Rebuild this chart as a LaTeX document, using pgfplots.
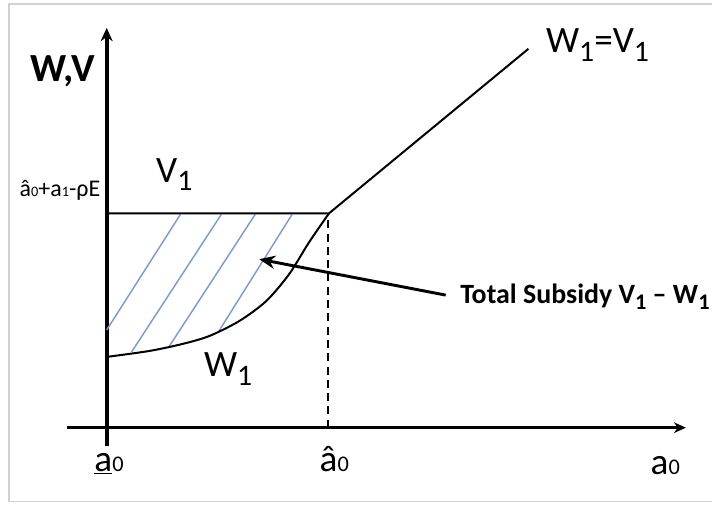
\documentclass[border=0pt]{standalone}
\usepackage{fontspec}
\setmainfont{Carlito}
\usepackage{pgfplots}
\pgfplotsset{compat=1.18}
\usetikzlibrary{arrows.meta}

\definecolor{hatch}{RGB}{125,155,205}
\definecolor{framegray}{RGB}{210,210,210}

% lowered subscript (PowerPoint style) and small baseline digit
\newcommand{\sub}[1]{\raisebox{-0.22em}{\scalebox{0.8}{#1}}}
\newcommand{\low}[1]{\scalebox{0.6}{#1}}

\begin{document}
\begin{tikzpicture}
\begin{axis}[
    width=535.5pt, height=381.75pt, scale only axis,
    xmin=0, xmax=714, ymin=0, ymax=509,
    axis lines=none, clip=false,
]
% page extent and light frame
\addplot[draw=none] coordinates {(0,0)(714,509)};
\addplot[framegray, line width=0.8pt] coordinates {(714,505)(9,505)(9,6)(714,6)};

% axes
\addplot[black, line width=2pt, -{Stealth[length=9pt,width=8pt]}] coordinates {(67,80)(688,80)};
\addplot[black, line width=3pt, -{Stealth[length=10pt,width=9pt]}] coordinates {(107,62)(107,481)};

% hatching of the subsidy area
\addplot[hatch, line width=1.1pt] coordinates {(107,178)(181,294)};
\addplot[hatch, line width=1.1pt] coordinates {(132,156)(222,294)};
\addplot[hatch, line width=1.1pt] coordinates {(170,162)(256,294)};
\addplot[hatch, line width=1.1pt] coordinates {(219,176)(293,294)};

% V1 and W1 = V1
\addplot[black, line width=1.5pt] coordinates {(107,295)(330,295)(530,460)};
% W1
\addplot[black, line width=1.5pt, smooth] coordinates {
    (107,151)(150,157)(183,164)(210,172)(240,187)(267,207)(290,234)(310,266)(330,295)};
% a0 hat guide
\addplot[black, line width=1.5pt, dash pattern=on 6pt off 4pt] coordinates {(329,80)(329,295)};

% pointer to the area
\addplot[black, line width=2.2pt, -{Stealth[length=12pt,width=10pt]}] coordinates {(447,213)(260,249)};

% labels
\node[anchor=base west, font=\fontsize{30}{32}\selectfont\bfseries] at (axis cs:26,427) {W,V};
\node[anchor=base west, font=\fontsize{18}{20}\selectfont] at (axis cs:15,312)
    {â\low{0}+a\low{1}-ρE};
\node[anchor=base west, font=\fontsize{28}{30}\selectfont] at (axis cs:152,326) {V\sub{1}};
\node[anchor=base west, font=\fontsize{28}{30}\selectfont] at (axis cs:200,131) {W\sub{1}};
\node[anchor=base west, font=\fontsize{28}{30}\selectfont] at (axis cs:543,456) {W\sub{1}=V\sub{1}};
\node[anchor=base west, font=\fontsize{21}{23}\selectfont\bfseries] at (axis cs:457,205)
    {Total Subsidy V\sub{1} – W\sub{1}};
\node[anchor=base west, font=\fontsize{28}{30}\selectfont] at (axis cs:90,36) {\underline{a}\low{0}};
\node[anchor=base west, font=\fontsize{28}{30}\selectfont] at (axis cs:316,36) {â\low{0}};
\node[anchor=base west, font=\fontsize{28}{30}\selectfont] at (axis cs:648,33) {a\low{0}};
\end{axis}
\end{tikzpicture}
\end{document}
